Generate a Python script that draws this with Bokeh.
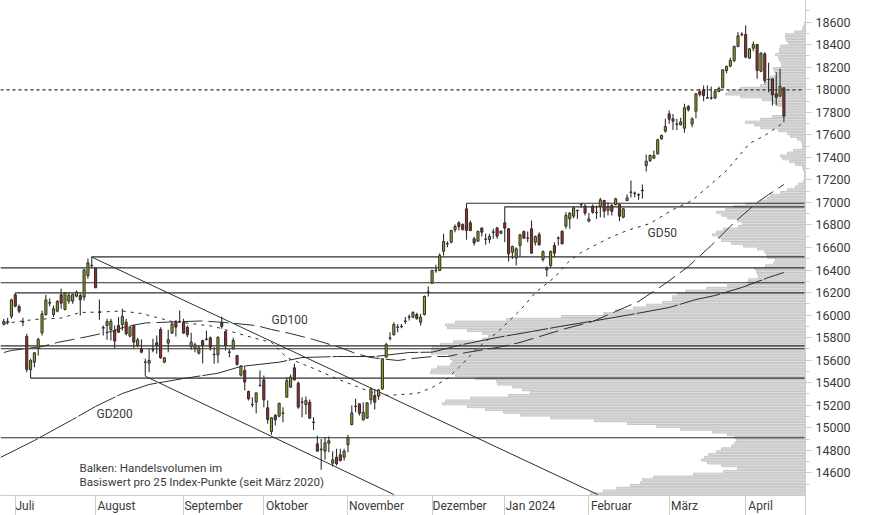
from bokeh.plotting import figure
from bokeh.models import Range1d, FixedTicker, Label, ColumnDataSource
from bokeh.embed import file_html
from bokeh.resources import INLINE

# ---------- candles (one per trading day) ----------
open_ = [15919,15936,15990,16180,16076,15938,15810,15514,15582,15706,15843,16005,16106,16005,16035,16180,16050,16124,16124,16168,16174,16159,16351,16438,16417,
16024,15884,15908,15872,15863,15908,15916,15937,15813,15908,15730,15700,15580,15573,15690,15754,15872,15582,15751,15840,15946,15941,15937,15893,15724,
15700,15662,15774,15784,15798,15648,15647,15931,15854,15669,15700,15641,15467,15508,15322,15204,15227,15373,15425,15177,14967,15109,15103,15127,15271,
15360,15532,15396,15225,15206,15227,15047,14857,14810,14792,14863,14685,14739,14759,14739,14848,15029,15187,15212,15070,15085,15248,15286,15280,15345,
15626,15793,15825,15891,15897,15944,15980,15982,16005,15937,16005,16202,16283,16394,16396,16567,16631,16647,16757,16819,16804,16943,16819,16677,16656,
16772,16672,16671,16733,16775,16727,16819,16766,16558,16508,16618,16742,16681,16766,16647,16715,16493,16402,16440,16618,16681,16745,16789,16854,16878,
16926,16980,16967,16834,16967,16908,16964,17017,16928,16973,16979,16982,16869,17017,17089,17080,17065,17104,17328,17372,17393,17431,17565,17633,17786,
17742,17693,17689,17659,17852,17695,17810,17985,18000,17926,17926,17928,17985,18017,18171,18210,18260,18384,18489,18491,18281,18369,18402,18165,18319,
18089,18097,17964,17943,18017]
high = [15967,15976,16144,16198,16094,15976,15834,15612,15671,15798,16041,16180,16150,16085,16135,16233,16204,16198,16189,16218,16198,16402,16502,16470,16420,
16138,15908,15967,15967,15908,15982,16056,15967,15908,15908,15798,15783,15612,15700,15789,15819,15893,15626,15869,15937,15952,16041,15967,15908,15843,
15754,15730,15780,15863,15810,15715,15810,15987,15863,15700,15798,15641,15556,15553,15331,15270,15310,15508,15464,15242,15094,15123,15218,15183,15449,
15473,15567,15410,15271,15277,15251,15094,14928,14901,14916,14922,14792,14813,14813,14813,14937,15197,15257,15212,15227,15227,15354,15345,15345,15620,
15754,15848,15937,15922,15922,15982,16005,16035,16020,16011,16174,16254,16402,16446,16550,16721,16656,16757,16804,16834,16816,16950,16840,16695,16751,
16780,16721,16721,16766,16780,16751,16819,16772,16618,16603,16721,16751,16742,16840,16706,16736,16573,16431,16573,16647,16697,16751,16914,16914,16964,
16937,16993,16987,16907,16982,16973,17041,17023,17002,16987,17041,16993,16950,17070,17195,17097,17082,17159,17425,17425,17461,17565,17603,17742,17816,
17786,17742,17751,17875,17866,17757,17970,18008,18038,18038,18029,18008,18029,18183,18215,18284,18393,18511,18511,18571,18372,18429,18408,18334,18334,
18239,18097,18156,18186,18023]
low = [15908,15916,15967,16070,16017,15902,15493,15502,15538,15641,15819,15996,16079,15982,16026,16056,16041,16100,16100,16159,15996,16130,16322,16417,16240,
15958,15819,15780,15774,15706,15840,15863,15819,15804,15706,15715,15662,15464,15493,15671,15656,15612,15573,15671,15834,15810,15937,15834,15804,15692,
15671,15650,15573,15774,15686,15567,15573,15878,15686,15626,15692,15553,15455,15331,15242,15182,15129,15366,15183,15035,14937,15020,15094,15049,15271,
15354,15419,15168,15094,15117,15079,14981,14792,14626,14715,14783,14656,14665,14700,14709,14783,15020,15138,15109,15064,15085,15206,15162,15248,15336,
15626,15774,15819,15848,15884,15922,15952,15973,15961,15908,15996,16165,16277,16375,16390,16529,16603,16638,16736,16751,16751,16668,16745,16618,16656,
16698,16624,16638,16677,16677,16718,16647,16476,16499,16440,16520,16677,16647,16544,16618,16618,16476,16342,16419,16514,16618,16632,16766,16766,16860,
16854,16952,16884,16825,16899,16854,16869,16863,16884,16884,16975,16834,16860,17011,17043,17047,17023,17032,17275,17358,17387,17425,17556,17618,17698,
17644,17644,17683,17618,17807,17668,17748,17940,17899,17919,17911,17919,17979,18017,18147,18201,18245,18378,18476,18281,18275,18343,18097,18156,18059,
17979,17860,17860,17940,17712]
close = [15943,15944,16135,16079,16035,15942,15517,15597,15665,15783,16011,16135,16112,16056,16121,16106,16198,16174,16183,16204,16135,16402,16464,16442,16242,
16028,15890,15943,15946,15769,15848,15988,15834,15893,15760,15780,15671,15584,15597,15694,15730,15621,15621,15783,15922,15893,15945,15840,15825,15760,
15736,15709,15730,15788,15715,15652,15804,15899,15730,15673,15774,15561,15547,15405,15257,15208,15310,15377,15248,15073,15088,15070,15218,15131,15419,
15449,15425,15183,15229,15242,15085,15051,14792,14804,14866,14884,14715,14680,14709,14792,14910,15132,15191,15129,15138,15221,15345,15227,15336,15612,
15739,15797,15916,15895,15901,15948,15984,16023,15967,15982,16165,16206,16396,16398,16529,16653,16635,16751,16786,16786,16760,16751,16751,16641,16742,
16736,16676,16698,16739,16700,16745,16772,16544,16609,16588,16712,16683,16685,16550,16697,16624,16564,16419,16564,16550,16685,16632,16884,16905,16952,
16930,16984,16905,16854,16913,16912,17023,16922,16958,16922,17032,16878,16943,17041,17093,17084,17069,17108,17366,17417,17417,17556,17594,17674,17739,
17721,17697,17715,17840,17822,17742,17964,17958,17949,17930,17930,17985,18011,18177,18207,18260,18384,18479,18493,18290,18363,18402,18171,18325,18082,
18093,17955,17934,18029,17766]

# ---------- moving averages: (day index, price) knots ----------
gd50_day = [0,8,15,20,25,31,36,40,44,49,55,63,70,74,81,87,95,99,104,108,112,116,119,124,129,135,139,144,148,151,158,163,169,175,180,183,189,195,199,204]
gd50_val = [15925,15961,15974,16023,16027,16036,16014,15979,15943,15925,15899,15819,15757,15623,15526,15437,15330,15286,15295,15304,15357,15437,15535,15712,15845,16041,16200,16334,16485,16556,16680,16751,16813,16937,17017,17106,17283,17523,17594,17710]
gd100_day = [0,2,10,14,18,22,28,32,37,44,52,58,66,70,75,81,88,92,96,103,107,112,116,121,129,135,141,147,154,160,166,173,179,185,191,197,200,204]
gd100_val = [15668,15686,15721,15757,15783,15810,15854,15899,15930,15939,15948,15934,15907,15872,15836,15783,15712,15659,15623,15597,15615,15632,15632,15668,15712,15757,15819,15881,15943,16032,16121,16280,16431,16618,16822,16999,17070,17159]
gd200_day = [-0.86,8,18,24,31,38,47,56,62,72,78,87,97,106,112,120,129,138,147,155,164,174,181,186,193,200,204]
gd200_val = [14736,14887,15073,15189,15304,15384,15437,15484,15544,15582,15623,15632,15632,15668,15671,15739,15801,15854,15908,15952,16005,16067,16138,16174,16245,16334,16378]

# ---------- volume per 25 index points, from the top bin down ----------
bin_volume = [1,2,3,11,20,20,19,17,25,26,26,30,27,26,24,24,32,31,28,35,37,41,45,65,77,80,65,43,32,28,22,20,22,33,45,60,51,45,27,18,15,8,4,3,3,12,18,25,23,16,10,3,2,1,1,1,2,7,10,18,25,35,38,45,60,72,
80,89,84,78,68,63,67,82,89,93,87,84,74,62,48,41,39,38,30,32,40,51,49,48,47,57,58,78,99,120,128,133,133,143,159,172,190,202,244,299,350,360,358,338,323,317,323,352,365,373,374,374,357,355,353,355,368,374,375,
350,330,309,308,293,283,275,297,335,360,363,338,320,302,285,255,211,178,149,125,93,78,71,69,71,74,84,89,97,101,104,98,84,68,82,112,152,163,165,175,189,202,215]
bin_top_center = 18587.5
bin_size = 25

# ---------- support / resistance levels and trend lines ----------
level_price = [16993,16961,16517,16420,16287,16198,15727,15701,15440,14911]
level_from_day = [121,131,23,None,None,3,None,None,7,None]
marker_level = 18000
bracket_day = [23,121,131,7,37]
bracket_from = [16470,16950,16819,15502,15464]
bracket_to = [16517,16993,16961,15440,15457]
trend1_day = [23,155.3]
trend1_val = [16515,14407]
trend2_day = [37,102]
trend2_val = [15457,14407]

# ---------- axes ----------
month_names = ["Juli","August","September","Oktober","November","Dezember","Jan 2024","Februar","März","April"]
month_first_day = [3,24,47,68,90,112,131,153,174,194]
month_label_day = [5.54,29.47,54.84,74.06,97.46,119.2,137.7,158.9,178.0,197.9]
price_ticks = [14600,14800,15000,15200,15400,15600,15800,16000,16200,16400,16600,16800,17000,17200,17400,17600,17800,18000,18200,18400,18600]
price_minor = [14500,14700,14900,15100,15300,15500,15700,15900,16100,16300,16500,16700,16900,17100,17300,17500,17700,17900,18100,18300,18500,18700]

FONT = "Roboto"
INK = "#2e2e2e"
TXT = "#3a3a3a"
GRID = "#cccccc"
X0, X1 = -0.863, 209.65
Y0, Y1 = 14398.5, 18792.6

p = figure(width=874, height=515, output_backend="svg", toolbar_location=None,
           x_range=Range1d(X0, X1), y_range=Range1d(Y0, Y1), y_axis_location="right",
           min_border_left=0, min_border_top=0, min_border_right=69, min_border_bottom=20,
           background_fill_color="white", outline_line_color=None)
p.styles = {"position": "absolute", "left": "0px", "top": "0px"}
p.grid.visible = False

yax = p.yaxis[0]
yax.ticker = FixedTicker(ticks=price_ticks, minor_ticks=price_minor)
yax.axis_line_color = GRID
yax.major_tick_line_color = GRID
yax.minor_tick_line_color = GRID
yax.major_tick_in = 0
yax.major_tick_out = 6
yax.minor_tick_in = 0
yax.minor_tick_out = 4
yax.major_label_standoff = 4
yax.major_label_text_font = FONT
yax.major_label_text_font_size = "12.5px"
yax.major_label_text_color = TXT
yax.formatter.use_scientific = False

xax = p.xaxis[0]
xax.ticker = FixedTicker(ticks=month_label_day, minor_ticks=month_first_day + [X1])
xax.major_label_overrides = dict(zip(month_label_day, month_names))
xax.axis_line_color = GRID
xax.major_tick_line_color = None
xax.major_tick_in = 0
xax.major_tick_out = 0
xax.major_label_standoff = -17
xax.major_label_text_font = FONT
xax.major_label_text_font_size = "12px"
xax.major_label_text_color = TXT
xax.minor_tick_line_color = GRID
xax.minor_tick_in = 0
xax.minor_tick_out = 20

# volume histogram
p.extra_x_ranges["vol"] = Range1d(805, 0)
bin_center = [bin_top_center - bin_size * k for k in range(len(bin_volume))]
p.hbar(y=bin_center, left=0, right=bin_volume, height=bin_size * 0.72, x_range_name="vol",
       fill_color="#dedede", line_color="#c6c6c6", line_width=1)

# levels
lx0 = [X0 if d is None else d for d in level_from_day]
p.segment(x0=lx0, x1=[209.4] * len(lx0), y0=level_price, y1=level_price, line_color=INK, line_width=1.2)
p.segment(x0=bracket_day, x1=bracket_day, y0=bracket_from, y1=bracket_to, line_color=INK, line_width=1.1)
p.line([X0, 209.4], [marker_level, marker_level], line_color=INK, line_width=1.2, line_dash=[3, 3])
p.line(trend1_day, trend1_val, line_color=INK, line_width=1)
p.line(trend2_day, trend2_val, line_color=INK, line_width=1)

# moving averages
p.line(gd50_day, gd50_val, line_color=INK, line_width=1, line_dash=[3, 5])
p.line(gd100_day, gd100_val, line_color=INK, line_width=1, line_dash=[20, 6])
p.line(gd200_day, gd200_val, line_color=INK, line_width=1, line_dash=[42, 2])

# candles
days = list(range(len(open_)))
colors = ["#93a61c" if c >= o else "#a62a1e" for o, c in zip(open_, close)]
src = ColumnDataSource(dict(d=days, o=open_, h=high, l=low, c=close, col=colors))
p.segment(x0="d", x1="d", y0="l", y1="h", source=src, line_color=INK, line_width=1.1)
p.vbar(x="d", top="o", bottom="c", width=0.55, source=src, fill_color="col", line_color=INK, line_width=1)

# texts
for txt, x, y, size in [("GD100", 271, 176, "12px"), ("GD200", 96, 82, "12px"), ("GD50", 647, 263, "12px"),
                        ("Balken: Handelsvolumen im", 79, 28, "11.6px"),
                        ("Basiswert pro 25 Index-Punkte (seit März 2020)", 79, 14, "11.6px")]:
    p.add_layout(Label(x=x, y=y, x_units="screen", y_units="screen", text=txt, text_font=FONT,
                       text_font_size=size, text_color=TXT, text_baseline="middle"))

open("out.html", "w").write(file_html(p, INLINE))
